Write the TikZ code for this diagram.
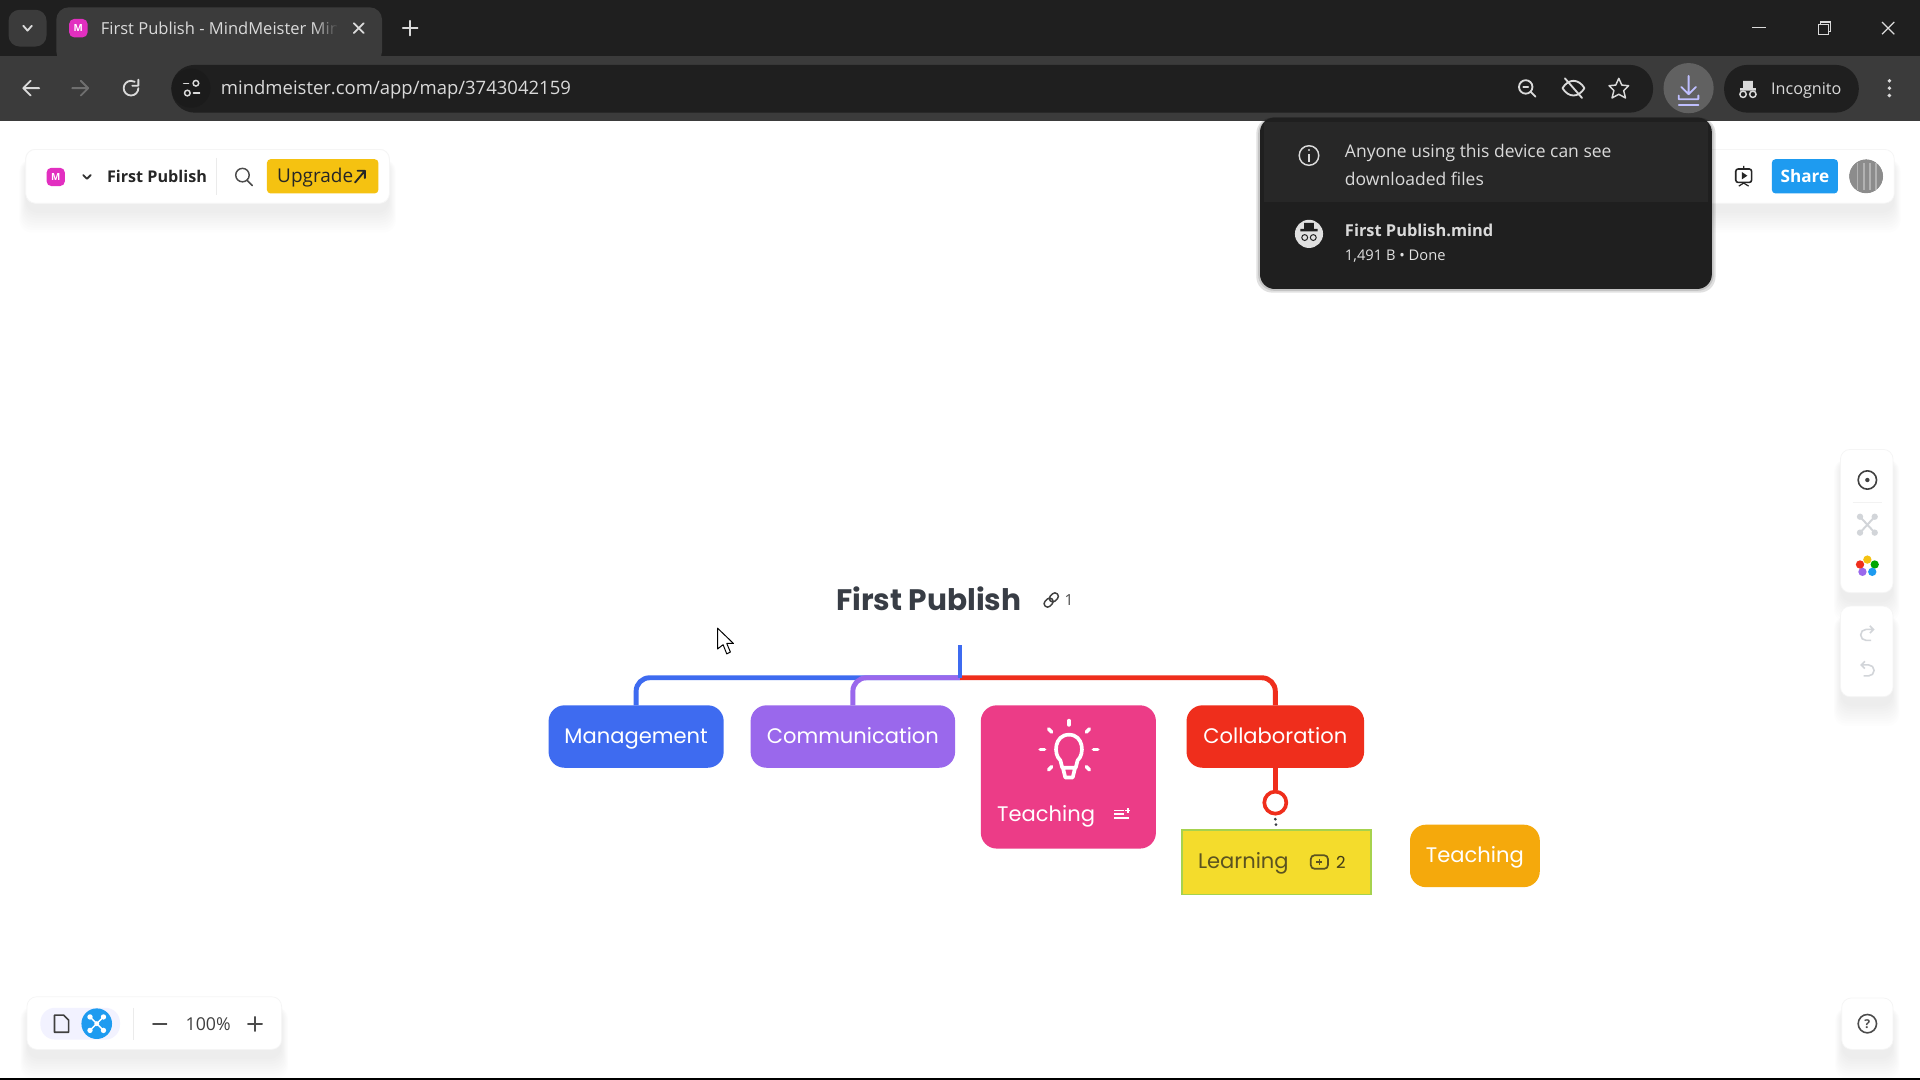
\documentclass[tikz,border=0pt]{standalone}
\usepackage{fontspec}
\usepackage{xcolor}
\usetikzlibrary{positioning,fadings}
\setmainfont{Open Sans}
\newfontfamily\mapfont{Poppins}

\definecolor{tabstrip}{HTML}{1F1F1F}
\definecolor{toolbar}{HTML}{3B3B3B}
\definecolor{popup}{HTML}{1F1F1F}
\definecolor{popuptop}{HTML}{272727}
\definecolor{chrome}{HTML}{DADADA}
\definecolor{dimchrome}{HTML}{6F6F6F}
\definecolor{favicon}{HTML}{E22FC0}
\definecolor{upgrade}{HTML}{F5C211}
\definecolor{share}{HTML}{1E9BF0}
\definecolor{inktext}{HTML}{383D45}
\definecolor{blueline}{HTML}{3E6BF0}
\definecolor{purpleline}{HTML}{9A68EC}
\definecolor{pinkfill}{HTML}{EC3C87}
\definecolor{redline}{HTML}{EF2E1C}
\definecolor{yellowfill}{HTML}{F4DC2C}
\definecolor{yellowedge}{HTML}{A6D24E}
\definecolor{amberfill}{HTML}{F5A90C}
\definecolor{olivetext}{HTML}{5B5320}
\definecolor{panelicon}{HTML}{D2D5D9}

\newcommand{\softshadow}[4]{%
  \foreach \s in {0,2,...,16}
    \fill[black,opacity=.007,rounded corners=10pt] ({#1-\s/3},{#2+8}) rectangle ({#3+\s/3},{#4+8+\s});
}

\begin{document}
\begin{tikzpicture}[x=1pt,y=-1pt,thick,
    topic node/.style={rounded corners=13pt,inner sep=0pt,outer sep=0pt,font=\mapfont\fontsize{17.2}{20}\selectfont,text=white,text height=14pt,text depth=3pt},
    topic label/.style={inner sep=0pt,font=\mapfont\fontsize{17.2}{20}\selectfont,text height=14pt,text depth=3pt,anchor=west},
    chrome label/.style={inner sep=0pt,text=chrome,anchor=west,text height=12pt,text depth=2pt},
    icon line/.style={line width=1.5pt,line cap=round,line join=round},
    panel/.style={fill=white,draw=black!4,line width=.6pt,rounded corners=8pt},
    tool label/.style={inner sep=0pt,font=\fontsize{13.2}{17}\selectfont\bfseries,text=black!85,text height=12pt,text depth=2pt}]
  \useasboundingbox (0,0) rectangle (1568,882);
  \fill[white] (0,0) rectangle (1568,882);
  \fill[black] (0,880) rectangle (1568,882);

  % browser frame
  \fill[tabstrip] (0,0) rectangle (1568,46);
  \fill[toolbar] (0,46) rectangle (1568,99);
  \fill[toolbar,rounded corners=10pt] (46,6) rectangle (312,52);
  \fill[toolbar,rounded corners=9pt] (7,8) rectangle (38,38);
  \fill[tabstrip,rounded corners=19pt] (140,53) rectangle (1350,92);
  \fill[tabstrip,rounded corners=19pt] (1408,53) rectangle (1518,92);
  \fill[black!12!tabstrip] (140,72) ++(16,0) circle (16);
  \fill[dimchrome!110] (1379,72) circle (20.5);

  % tab
  \draw[icon line,chrome] (19,21) -- (22.5,25) -- (26,21);
  \fill[favicon,rounded corners=4pt] (56.5,15.5) rectangle (71.5,30.5);
  \node[inner sep=0pt,text=white,font=\bfseries\fontsize{8}{8}\selectfont] (tabicon) at (64,23) {M};
  \node[chrome label,font=\fontsize{13.5}{16}\selectfont] (tabtitle) at (82,23) {First Publish - MindMeister Min};
  \fill[toolbar,path fading=west] (256,12) rectangle (276,36);
  \fill[toolbar] (275,12) rectangle (284,36);
  \draw[icon line,chrome] (289,19) -- (297,27) (297,19) -- (289,27);
  \draw[icon line,chrome] (329,23) -- (341,23) (335,17) -- (335,29);

  % window buttons
  \draw[line width=1pt,chrome] (1431,22.5) -- (1442,22.5);
  \draw[line width=1pt,chrome] (1485,20) rectangle (1493,28) (1487,20) -- (1487,18) -- (1495,18) -- (1495,26) -- (1493,26);
  \draw[line width=1pt,chrome] (1537,18) -- (1547,28) (1547,18) -- (1537,28);

  % toolbar
  \draw[icon line,chrome] (32,72) -- (19,72) (25,66) -- (19,72) -- (25,78);
  \draw[icon line,dimchrome] (59,72) -- (72,72) (66,66) -- (72,72) -- (66,78);
  \draw[icon line,chrome] (113,72) arc (0:300:6) (113,65) -- (113,70) -- (108,70);
  \draw[icon line,chrome,line width=1.2pt] (150,68) -- (154,68) (158,76) -- (163,76);
  \draw[chrome,line width=1.2pt] (160,68) circle (2.3) (153,76) circle (2.3);
  \node[chrome label,font=\fontsize{15.1}{18}\selectfont] (urltext) at (180,72.5) {mindmeister.com/app/map/3743042159};
  \draw[icon line,chrome] (1246,71) circle (5.5) (1250,75) -- (1254,79) (1244,71) -- (1248,71);
  \draw[icon line,chrome] (1276,72) .. controls (1281,64) and (1289,64) .. (1294,72) .. controls (1289,80) and (1281,80) .. (1276,72) (1278,64) -- (1292,80);
  \draw[icon line,chrome,line width=1.2pt] (1322,64) -- (1324.5,69.5) -- (1330,70) -- (1326,74) -- (1327.5,80) -- (1322,77) -- (1316.5,80) -- (1318,74) -- (1314,70) -- (1319.5,69.5) -- cycle;
  \draw[icon line,white!75!blue] (1379,62) -- (1379,76) (1373,71) -- (1379,77) -- (1385,71) (1371,78) -- (1371,81) -- (1387,81) -- (1387,78);
  \draw[icon line,white!75!blue] (1371,86) -- (1387,86);
  \fill[chrome] (1421,72) rectangle (1434,74) (1423.5,66) rectangle (1431.5,72);
  \draw[chrome,line width=1.2pt] (1423.5,77) circle (2.6) (1431.5,77) circle (2.6);
  \node[chrome label,font=\fontsize{13.2}{17}\selectfont] (incognito) at (1446,72) {Incognito};
  \foreach \y in {66,72,78}
    \fill[chrome] (1543,\y) circle (1.6);

  % left panel
  \softshadow{21}{122}{318}{166}
  \fill[panel] (21,122) rectangle (318,166);
  \draw[panel] (21,122) rectangle (318,166);
  \fill[favicon,rounded corners=4pt] (38,137) rectangle (53,152);
  \node[inner sep=0pt,text=white,font=\bfseries\fontsize{8}{8}\selectfont] (appicon) at (45.5,144.5) {M};
  \draw[icon line,black!80] (68,143) -- (71,146) -- (74,143);
  \node[tool label,anchor=west] (maptitle) at (87,144) {First Publish};
  \draw[black!8,line width=.8pt] (177,129) -- (177,159);
  \draw[icon line,black!70,line width=1.2pt] (198,143) circle (5.5) (202,147.5) -- (206,151.5);
  \node[fill=upgrade,rounded corners=3pt,minimum width=91pt,minimum height=28pt,inner sep=0pt] (upgradebtn) at (263.5,144) {};
  \node[inner sep=0pt,anchor=west,font=\fontsize{15.5}{17}\selectfont,text=black!85,text height=12pt,text depth=2pt] (upgradelabel) at (226,144) {Upgrade};
  \draw[icon line,black!85] (290,149) -- (298,139.5) (292,139.5) -- (298,139.5) -- (298,145.5);

  % right panel
  \softshadow{1380}{122}{1547}{166}
  \draw[panel] (1380,122) rectangle (1547,166);
  \draw[black!85,line width=1.3pt,rounded corners=2pt] (1417.5,138) rectangle (1430.5,149);
  \fill[black!85] (1422.5,140.5) -- (1427,143.5) -- (1422.5,146.5) -- cycle;
  \draw[black!85,line width=1pt] (1424,135.5) -- (1424,138) (1420,152) -- (1424,149.5) -- (1428,152);
  \node[fill=share,rounded corners=3pt,minimum width=54pt,minimum height=28pt,inner sep=0pt,font=\bfseries\fontsize{14}{17}\selectfont,text=white,text height=12pt,text depth=2pt] (sharebtn) at (1474,144) {Share};
  \fill[black!45] (1524,144) circle (14);
  \foreach \x in {1517,1522,1527,1532}
    \draw[white!70!black,line width=1.5pt] (\x,133) -- (\x,155);
  \draw[white,line width=3pt] (1524,144) circle (15.5);

  % download popup
  \foreach \s in {0,1.5,3}
    \fill[black,opacity=.12,rounded corners=13pt] ({1029-\s},{96}) rectangle ({1398+\s},{236+\s});
  \fill[popup,rounded corners=12pt] (1029,96) rectangle (1398,236);
  \fill[popuptop] (1032,100) rectangle (1395,165);
  \draw[chrome,line width=1.2pt] (1069,127) circle (8);
  \draw[chrome,line width=1.4pt] (1069,126) -- (1069,132);
  \fill[chrome] (1069,122.5) circle (1);
  \node[chrome label,font=\fontsize{14.3}{17}\selectfont] (seetext) at (1098,123.5) {Anyone using this device can see};
  \node[chrome label,font=\fontsize{14.3}{17}\selectfont] (filestext) at (1098,146.5) {downloaded files};
  \fill[black!12] (1069,191) circle (11.5);
  \fill[popup] (1062,187) rectangle (1076,189) (1065,182) rectangle (1073,187);
  \draw[popup,line width=.8pt] (1065.5,194) circle (2.4) (1072.5,194) circle (2.4);
  \node[chrome label,font=\fontsize{13.4}{17}\selectfont\bfseries] (filename) at (1098,188) {First Publish.mind};
  \node[chrome label,text=chrome!80,font=\fontsize{12}{15}\selectfont] (filestate) at (1098,208) {1,491 B • Done};

  % map
  \node[inner sep=0pt,outer sep=0pt,font=\mapfont\bfseries\fontsize{24.2}{28}\selectfont,text=inktext,anchor=west] (root) at (683,489) {First Publish};
  \draw[black!75,line width=1.2pt,rounded corners=2.6pt,rotate around={45:(858.5,490)}] (851.5,487.2) rectangle (859.5,492.8) (857.5,487.2) rectangle (865.5,492.8);
  \node[inner sep=0pt,font=\fontsize{12.5}{15}\selectfont,text=black!70] (linkcount) at (873,490) {1};

  \node[topic node,fill=blueline,minimum width=143pt,minimum height=51pt] (management) at (519.5,601.5) {Management};
  \node[topic node,fill=purpleline,minimum width=167pt,minimum height=51pt] (communication) [right=22pt of management] {Communication};
  \node[topic node,fill=pinkfill,minimum width=143pt,minimum height=117pt] (teaching) [right=21pt of communication.north east,anchor=north west] {};
  \node[topic node,fill=redline,minimum width=145pt,minimum height=51pt] (collaboration) [right=25pt of teaching.north east,anchor=north west] {Collaboration};
  \node[fill=yellowfill,draw=yellowedge,line width=1.5pt,minimum width=154pt,minimum height=53pt,inner sep=0pt,outer sep=0pt] (learning) [below=50.5pt of collaboration,xshift=1pt] {};
  \node[topic node,fill=amberfill,minimum width=106pt,minimum height=51pt] (teachingtwo) [right=32pt of learning.north east,anchor=north west,yshift=4pt] {Teaching};

  \coordinate (stem) at (784,527);
  \coordinate (hub) at (784,553.5);
  \draw[blueline,line width=4pt,rounded corners=11pt] (hub) -| (management.north);
  \draw[purpleline,line width=4pt,rounded corners=11pt] (hub) -| (communication.north);
  \draw[redline,line width=4pt,rounded corners=11pt] (hub) -| (collaboration.north);
  \draw[blueline,line width=3.5pt] (stem) -- (hub);

  \node[circle,draw=redline,fill=white,line width=3pt,minimum size=18pt,inner sep=0pt] (fold) [below=18pt of collaboration] {};
  \draw[redline,line width=4pt] (collaboration) -- (fold);
  \draw[inktext,line width=2.5pt,line cap=round,dash pattern=on 0pt off 4.5pt] (fold.south) ++(0,3) -- (learning.north);

  % bulb
  \foreach \a in {0,45,90,135,180,225,-45}
    \draw[white,line width=3pt,line cap=round] (873,612) ++(\a:-20) -- ++(\a:-3.5);
  \draw[white,line width=3pt,line join=round] (867.5,627) -- (866,621) .. controls (860,616) and (861,600) .. (873,600) .. controls (885,600) and (886,616) .. (880,621) -- (878.5,627) -- cycle (868,627) -- (870,635) -- (876,635) -- (878,627);

  \node[topic label,text=white] (teachinglabel) at (814,665.5) {Teaching};
  \foreach \y/\w in {662/8,665/8,668/12}
    \draw[white,line width=1.4pt] (910,\y) -- ++(\w,0);
  \draw[white,line width=1.2pt] (921,660) -- (921,664) (919,662) -- (923,662);

  \node[topic label,text=olivetext] (learninglabel) at (978,703.5) {Learning};
  \draw[olivetext,line width=1.4pt,rounded corners=3pt] (1070.5,698.5) rectangle (1084.5,709.5);
  \draw[olivetext,line width=1pt] (1077.5,701.5) -- (1077.5,706.5) (1075,704) -- (1080,704);
  \node[inner sep=0pt,font=\mapfont\fontsize{13.5}{15}\selectfont,text=olivetext!70!black] (commentcount) at (1095,704) {2};

  % cursor
  \draw[black,fill=white,line width=.8pt,line join=round] (586,513) -- (586,530) -- (590.5,526.5) -- (593.5,534) -- (596.5,532.5) -- (593.5,525.5) -- (599,525.5) -- cycle;

  % side panels
  \softshadow{1503}{367}{1546}{484}
  \softshadow{1503}{495}{1546}{569}
  \softshadow{1504}{815}{1546}{857}
  \softshadow{22}{814}{230}{857}
  \draw[panel] (1503,367) rectangle (1546,484);
  \draw[panel] (1503,495) rectangle (1546,569);
  \draw[panel] (1504,815) rectangle (1546,857);
  \draw[black!75,line width=1.3pt] (1525,392) circle (7.5);
  \fill[black!75] (1525,392) circle (1.8);
  \draw[black!5,line width=.8pt] (1513,410) -- (1537,410);
  \draw[panelicon,line width=1.6pt] (1519,422) -- (1531,435) (1531,422) -- (1519,435);
  \foreach \x/\y in {1519/422,1531/422,1519/435,1531/435}
    \fill[panelicon] (\x,\y) circle (2.6);
  \foreach \x/\y/\c in {1525/457/upgrade,1531/461/green!65!black,1529/467/share,1521/467/purpleline,1519/461/redline}
    \fill[\c] (\x,\y) circle (3.4);
  \draw[panelicon,line width=1.3pt] (1530,514) -- (1524,514) arc (-90:-270:4.5) -- (1528,523) (1527,511) -- (1530,514) -- (1527,517);
  \draw[panelicon,line width=1.3pt] (1520,543) -- (1526,543) arc (-90:90:4.5) -- (1522,552) (1523,540) -- (1520,543) -- (1523,546);
  \draw[black!70,line width=1.3pt] (1525,836) circle (7.5);
  \node[inner sep=0pt,font=\fontsize{10}{10}\selectfont\bfseries,text=black!70] (helpmark) at (1525,836) {?};

  % zoom panel
  \draw[panel] (22,814) rectangle (230,857);
  \fill[blue!5,rounded corners=12pt] (33,823) rectangle (98,849);
  \draw[black!75,line width=1.3pt,line join=round] (44.5,829) -- (52,829) -- (56,833) -- (56,843) -- (44.5,843) -- cycle;
  \fill[share] (79,836) circle (12.5);
  \draw[white,line width=1.2pt] (73.5,830.5) -- (84.5,841.5) (84.5,830.5) -- (73.5,841.5);
  \foreach \x/\y in {73.5/830.5,84.5/830.5,73.5/841.5,84.5/841.5}
    \fill[white] (\x,\y) circle (2.2);
  \fill[white] (79,836) circle (2);
  \draw[black!8,line width=.8pt] (109,823) -- (109,849);
  \draw[icon line,black!70] (125,836) -- (136,836);
  \node[inner sep=0pt,font=\fontsize{14.5}{17}\selectfont,text=black!75] (zoomlevel) at (170,836.5) {100\%};
  \draw[icon line,black!70] (202.5,836) -- (214,836) (208,830.5) -- (208,842);
\end{tikzpicture}
\end{document}
